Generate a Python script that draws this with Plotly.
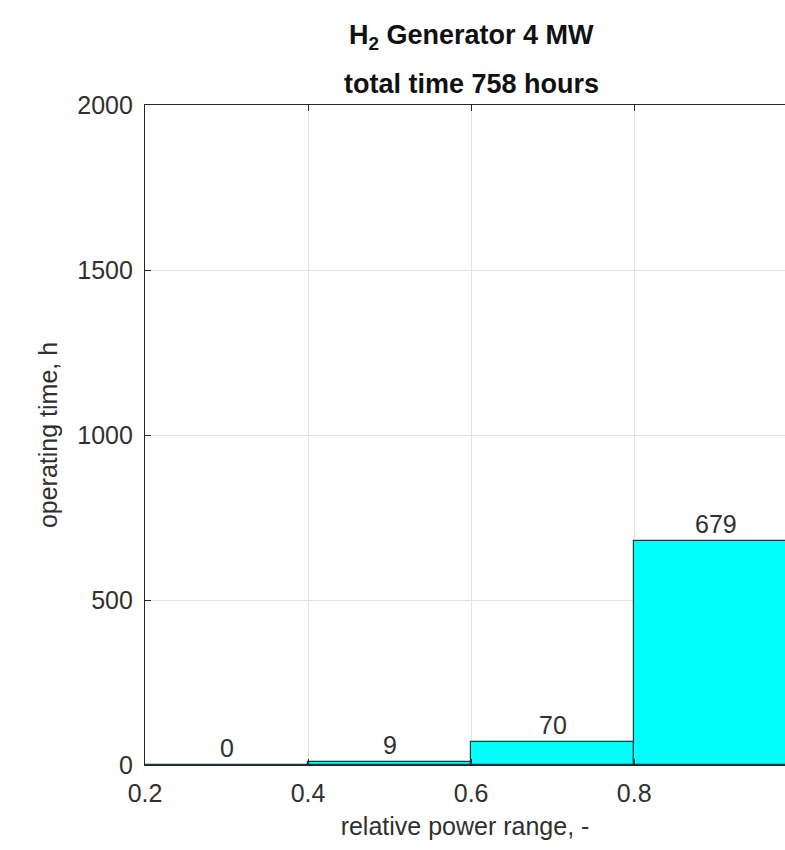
import plotly.graph_objects as go

# Histogram of operating hours by relative power bin
bin_edges = [0.2, 0.4, 0.6, 0.8, 1.0]
hours = [0, 9, 70, 679]
x_ticks = [0.2, 0.4, 0.6, 0.8]
y_ticks = [0, 500, 1000, 1500, 2000]

centers = [(a + b) / 2 for a, b in zip(bin_edges[:-1], bin_edges[1:])]
widths = [b - a for a, b in zip(bin_edges[:-1], bin_edges[1:])]

FONT = "Liberation Sans, Arial, sans-serif"
TXT = "#303030"
SIZE = 25

fig = go.Figure()
fig.add_trace(go.Bar(
    x=centers, y=hours, width=widths,
    marker=dict(color="#00FFFF", line=dict(color="#143c3c", width=1.2)),
    showlegend=False, hoverinfo="x+y",
))

for c, h in zip(centers, hours):
    fig.add_annotation(x=c, y=h, xref="x", yref="y", text=str(h),
                       showarrow=False, yanchor="bottom", yshift=1,
                       font=dict(family=FONT, size=SIZE, color=TXT))

# Two-line bold title, centred over the full axis span
fig.add_annotation(x=0.6, xref="x", y=1.0, yref="paper", yshift=68,
                   text="<b>H<sub>2</sub> Generator 4 MW</b>", showarrow=False,
                   yanchor="middle", font=dict(family=FONT, size=27, color="#111"))
fig.add_annotation(x=0.6, xref="x", y=1.0, yref="paper", yshift=21,
                   text="<b>total time 758 hours</b>", showarrow=False,
                   yanchor="middle", font=dict(family=FONT, size=27, color="#111"))

fig.update_layout(
    width=785, height=850,
    margin=dict(l=145, r=0, t=105, b=85),
    paper_bgcolor="white", plot_bgcolor="white",
    bargap=0,
    font=dict(family=FONT, size=SIZE, color=TXT),
    xaxis=dict(
        range=[0.2, 0.985], tickvals=x_ticks, ticktext=[str(v) for v in x_ticks],
        showgrid=True, gridcolor="#e3e3e3", gridwidth=1,
        showline=True, linecolor="#262626", linewidth=1.2, mirror="ticks",
        ticks="inside", ticklen=6, tickcolor="#262626",
        ticklabelstandoff=6,
        zeroline=False,
        title=dict(text="relative power range, -", standoff=11,
                   font=dict(family=FONT, size=SIZE, color=TXT)),
    ),
    yaxis=dict(
        range=[0, 2000], tickvals=y_ticks,
        showgrid=True, gridcolor="#e3e3e3", gridwidth=1,
        showline=True, linecolor="#262626", linewidth=1.2,
        ticks="inside", ticklen=6, tickcolor="#262626",
        ticklabelstandoff=6,
        zeroline=False,
        title=dict(text="operating time, h", standoff=12,
                   font=dict(family=FONT, size=SIZE, color=TXT)),
    ),
)

fig.write_html("out.html")
